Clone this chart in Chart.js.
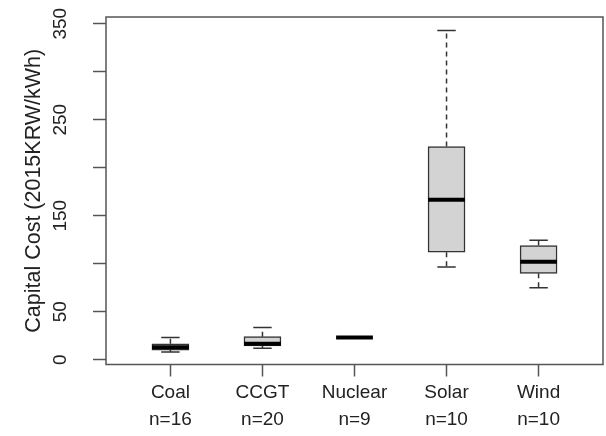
<!DOCTYPE html>
<html>
<head>
<meta charset="utf-8">
<script src="https://cdn.jsdelivr.net/npm/chart.js@4"></script>
<style>
    html, body { margin: 0; padding: 0; background: #fff; }
    #wrap { width: 606px; height: 436px; }
</style>
</head>
<body>
<div id="wrap"><canvas id="myChart" width="606" height="436"></canvas></div>
<script>
const categories = ['Coal', 'CCGT', 'Nuclear', 'Solar', 'Wind'];
const counts = [16, 20, 9, 10, 10];
const mins = [8, 12, 23, 96.5, 75];
const q1 = [10, 14.3, 23, 112, 90];
const medians = [13, 16.5, 23, 166.5, 102];
const q3 = [16.5, 24, 23, 222, 119];
const maxs = [23, 33.5, 23, 343, 124.5];
const yTicks = [0, 50, 100, 150, 200, 250, 300, 350];
const yLabelled = [0, 50, 150, 250, 350];

const lineColor = '#333';
const axisColor = '#555';
const textColor = '#222';

// build segment lists, separated by gaps
function segments(fn) {
    const out = [];
    categories.forEach((c, i) => {
        fn(i).forEach(seg => {
            out.push(seg[0], seg[1], { x: seg[1].x, y: null });
        });
    });
    return out;
}

const boxData = categories.map((c, i) => ({ x: i + 1, y: [q1[i], q3[i]] }));
const whiskerData = segments(i => [
    [{ x: i + 1, y: q3[i] }, { x: i + 1, y: maxs[i] }],
    [{ x: i + 1, y: q1[i] }, { x: i + 1, y: mins[i] }]
]);
const capData = segments(i => [
    [{ x: i + 0.9, y: maxs[i] }, { x: i + 1.1, y: maxs[i] }],
    [{ x: i + 0.9, y: mins[i] }, { x: i + 1.1, y: mins[i] }]
]);
const medianData = segments(i => [
    [{ x: i + 0.8, y: medians[i] }, { x: i + 1.2, y: medians[i] }]
]);

const framePlugin = {
    id: 'frame',
    afterDraw(chart) {
        const { ctx, chartArea: a } = chart;
        ctx.save();
        ctx.strokeStyle = axisColor;
        ctx.lineWidth = 1.5;
        ctx.strokeRect(a.left, a.top, a.right - a.left, a.bottom - a.top);
        ctx.restore();
    }
};

const lineDefaults = {
    type: 'line',
    pointRadius: 0,
    spanGaps: false,
    fill: false,
    borderCapStyle: 'butt'
};

const ctx = document.getElementById('myChart').getContext('2d');
new Chart(ctx, {
    type: 'bar',
    data: {
        datasets: [
            Object.assign({}, lineDefaults, {
                data: medianData,
                borderColor: '#000',
                borderWidth: 4,
                order: 0
            }),
            {
                type: 'bar',
                data: boxData,
                backgroundColor: '#d3d3d3',
                borderColor: lineColor,
                borderWidth: 1.5,
                borderSkipped: false,
                barThickness: 37,
                order: 1
            },
            Object.assign({}, lineDefaults, {
                data: whiskerData,
                borderColor: lineColor,
                borderWidth: 1.5,
                borderDash: [5, 4],
                order: 2
            }),
            Object.assign({}, lineDefaults, {
                data: capData,
                borderColor: lineColor,
                borderWidth: 1.5,
                order: 2
            })
        ]
    },
    options: {
        responsive: false,
        animation: false,
        layout: { padding: { top: 17, right: 3, left: 0, bottom: 0 } },
        plugins: {
            legend: { display: false },
            tooltip: { enabled: false }
        },
        scales: {
            x: {
                type: 'linear',
                min: 0.3,
                max: 5.7,
                offset: false,
                afterBuildTicks: scale => {
                    scale.ticks = categories.map((c, i) => ({ value: i + 1 }));
                },
                afterFit: scale => {
                    scale.height = 71.5;
                    scale.paddingLeft = 0;
                    scale.paddingRight = 0;
                },
                border: { display: false },
                grid: {
                    display: true,
                    offset: false,
                    drawOnChartArea: false,
                    drawTicks: true,
                    tickLength: 12,
                    tickWidth: 1.5,
                    color: axisColor
                },
                ticks: {
                    autoSkip: false,
                    maxRotation: 0,
                    padding: 2,
                    color: textColor,
                    font: { family: 'Liberation Sans, Arial, sans-serif', size: 19, lineHeight: 1.45 },
                    callback: v => [categories[v - 1], 'n=' + counts[v - 1]]
                }
            },
            y: {
                min: -5,
                max: 357,
                afterBuildTicks: scale => {
                    scale.ticks = yTicks.map(v => ({ value: v }));
                },
                afterFit: scale => {
                    scale.width = 106;
                    scale.paddingTop = 0;
                    scale.paddingBottom = 0;
                },
                border: { display: false },
                grid: {
                    display: true,
                    drawOnChartArea: false,
                    drawTicks: true,
                    tickLength: 13,
                    tickWidth: 1.5,
                    color: axisColor
                },
                ticks: {
                    minRotation: 90,
                    maxRotation: 90,
                    crossAlign: 'center',
                    padding: 16,
                    color: textColor,
                    font: { family: 'Liberation Sans, Arial, sans-serif', size: 19 },
                    callback: v => yLabelled.includes(v) ? String(v) : ''
                },
                title: {
                    display: true,
                    text: 'Capital Cost (2015KRW/kWh)',
                    color: textColor,
                    padding: { top: 21, bottom: 0 },
                    font: { family: 'Liberation Sans, Arial, sans-serif', size: 21.5 }
                }
            }
        }
    },
    plugins: [framePlugin]
});
</script>
</body>
</html>
